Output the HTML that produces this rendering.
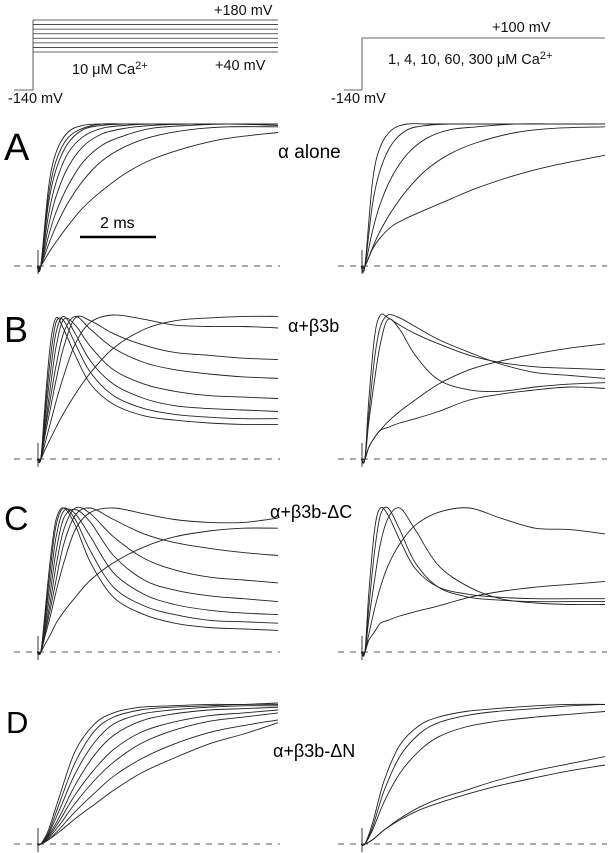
<!DOCTYPE html>
<html><head><meta charset="utf-8">
<style>
html,body{margin:0;padding:0;background:#fff;}
svg{display:block;font-family:"Liberation Sans",sans-serif;}
</style></head>
<body>
<svg id="fig" width="608" height="853" viewBox="0 0 608 853">
<g stroke="#333" stroke-width="0.8" fill="none">
<polyline points="14,90 33,90 33,20"/>
<g id="steps"></g>
</g>
<g stroke="#333" stroke-width="0.8" fill="none">
<polyline points="344,90 362,90 362,38 605,38"/>
</g>
<g font-size="14.5" fill="#111">
<text x="214" y="15">+180 mV</text>
<text x="72" y="74">10 μM Ca<tspan dy="-5" font-size="11">2+</tspan></text>
<text x="215" y="70">+40 mV</text>
<text x="8" y="103">-140 mV</text>
<text x="492" y="32">+100 mV</text>
<text x="388" y="64">1, 4, 10, 60, 300 μM Ca<tspan dy="-5" font-size="11">2+</tspan></text>
<text x="331" y="103">-140 mV</text>
</g>
<g fill="#000">
<text x="4" y="160" font-size="38">A</text>
<text x="4" y="342" font-size="36">B</text>
<text x="4" y="530" font-size="34">C</text>
<text x="6" y="733" font-size="31">D</text>
<text x="278" y="158" font-size="19">α alone</text>
<text x="288" y="332" font-size="18">α+β3b</text>
<text x="270" y="518" font-size="18">α+β3b-ΔC</text>
<text x="273" y="757" font-size="18">α+β3b-ΔN</text>
<text x="100" y="228" font-size="16">2 ms</text>
</g>
<line x1="80" y1="237" x2="156" y2="237" stroke="#000" stroke-width="2.5"/>
<g id="traces" fill="none" stroke="#222" stroke-width="0.9"></g>
</svg>
<script>
// time grids (ms)
const tA = [0,0.1,0.3,0.5,0.8,1.2,1.7,2.3,3,4,5,6.3];
const tBC = [0,0.1,0.2,0.35,0.5,0.7,1,1.4,2,2.8,3.6,4.5,5.4,6.3];
const tD = [0,0.1,0.3,0.6,1,1.5,2,2.7,3.5,4.5,5.4,6.3];
// normalized currents
const aLeft = [
[0,0,.55,.80,.94,.99,1,1,1,1,1,1],
[0,0,.49,.74,.90,.97,1,1,1,1,1,1],
[0,0,.44,.68,.86,.96,.99,1,1,1,1,1],
[0,0,.36,.59,.79,.91,.97,.99,1,1,1,1],
[0,0,.28,.49,.69,.84,.93,.97,.99,1,1,1],
[0,0,.21,.38,.56,.73,.85,.92,.97,.99,1,.99],
[0,0,.15,.28,.44,.60,.74,.84,.91,.96,.98,.98],
[0,0,.09,.17,.28,.41,.53,.65,.75,.84,.90,.94]];
const aRight = [
[0,0,.60,.84,.96,1,1,1,1,1,1,1],
[0,0,.44,.68,.86,.96,.99,1,1,1,1,1],
[0,0,.25,.44,.63,.79,.90,.96,.98,1,1,1],
[0,0,.13,.25,.39,.54,.68,.79,.87,.94,.97,.98],
[0,0,.12,.20,.28,.34,.40,.47,.55,.64,.71,.78]];
const bLeft = [
[0,0,.35,.8,.98,.9,.72,.52,.38,.3,.27,.25,.24,.24],
[0,0,.3,.7,.95,.96,.8,.6,.44,.35,.31,.29,.28,.28],
[0,0,.25,.6,.88,.99,.87,.68,.52,.42,.37,.35,.34,.33],
[0,0,.2,.5,.78,.97,.93,.78,.62,.52,.47,.44,.43,.42],
[0,0,.18,.42,.65,.88,.99,.9,.77,.67,.62,.59,.57,.56],
[0,0,.15,.35,.55,.78,.98,.96,.87,.79,.74,.72,.70,.69],
[0,0,.1,.25,.4,.58,.8,.95,1,.97,.93,.92,.92,.91],
[0,0,.06,.14,.22,.32,.45,.6,.77,.9,.96,.98,.99,.99]];
const bRight = [
[0,0,.4,.85,1,.98,.93,.87,.8,.72,.67,.64,.63,.62],
[0,0,.3,.7,.92,1,.98,.92,.83,.74,.66,.6,.58,.56],
[0,0,.25,.55,.8,.97,.9,.72,.55,.48,.47,.5,.52,.53],
[0,0,.08,.15,.2,.26,.33,.41,.52,.62,.68,.73,.77,.8],
[0,0,.08,.15,.2,.22,.25,.28,.33,.41,.45,.48,.5,.49]];
const cLeft = [
[0,0,.25,.65,.92,1,.88,.62,.38,.26,.2,.17,.16,.15],
[0,0,.22,.58,.88,1,.92,.7,.45,.32,.26,.22,.21,.2],
[0,0,.2,.5,.8,.98,.96,.8,.55,.4,.33,.29,.27,.26],
[0,0,.17,.42,.7,.93,.99,.9,.67,.5,.43,.39,.37,.35],
[0,0,.14,.35,.6,.85,1,.96,.8,.65,.57,.52,.5,.48],
[0,0,.12,.3,.5,.75,.95,1,.92,.82,.76,.72,.69,.67],
[0,0,.1,.25,.42,.62,.85,.97,1,.96,.92,.9,.9,.93],
[0,0,.05,.12,.2,.28,.38,.5,.62,.73,.8,.84,.86,.86]];
const cRight = [
[0,0,.4,.85,1,.95,.78,.58,.45,.4,.38,.37,.37,.37],
[0,0,.3,.7,.95,1,.85,.62,.45,.38,.36,.35,.35,.35],
[0,0,.22,.5,.75,.93,1,.85,.6,.45,.37,.34,.33,.33],
[0,0,.12,.3,.45,.6,.75,.88,.97,1,.93,.86,.85,.82],
[0,0,.08,.14,.2,.22,.25,.28,.32,.38,.42,.45,.47,.49]];
const dLeft = [
[0,0,.1,.35,.66,.85,.93,.97,.98,.99,.99,1],
[0,0,.08,.3,.58,.8,.9,.95,.97,.98,.99,.99],
[0,0,.07,.25,.5,.72,.85,.92,.95,.97,.98,.98],
[0,0,.06,.2,.42,.63,.77,.87,.92,.95,.96,.97],
[0,0,.05,.17,.35,.53,.67,.79,.86,.91,.93,.95],
[0,0,.04,.14,.29,.45,.58,.71,.8,.87,.9,.93],
[0,0,.03,.11,.23,.36,.48,.6,.7,.79,.84,.88],
[0,0,.03,.09,.18,.28,.38,.5,.6,.71,.78,.86]];
const dRight = [
[0,0,.15,.45,.7,.84,.9,.94,.96,.98,.99,.99],
[0,0,.12,.38,.62,.78,.86,.91,.94,.96,.98,.99],
[0,0,.1,.3,.5,.66,.76,.83,.87,.9,.92,.94],
[0,0,.03,.1,.18,.26,.32,.38,.45,.52,.57,.62],
[0,0,.03,.1,.17,.24,.29,.35,.41,.47,.52,.56]];
const protocolSteps = [40,60,80,100,120,140,160,180];

const NS = "http://www.w3.org/2000/svg";
const steps = document.getElementById('steps');
function vY(mv){ return 52 - (mv-40)/140*32; }
protocolSteps.forEach(mv=>{
  const l = document.createElementNS(NS,'line');
  l.setAttribute('x1',33); l.setAttribute('x2',278);
  l.setAttribute('y1',vY(mv)); l.setAttribute('y2',vY(mv));
  
  
  steps.appendChild(l);
});

const g = document.getElementById('traces');
const TMAX = 6.3;
function path(pts){
  let d = "M"+pts[0][0].toFixed(1)+","+pts[0][1].toFixed(1);
  for(let i=0;i<pts.length-1;i++){
    const p0=pts[Math.max(0,i-1)],p1=pts[i],p2=pts[i+1],p3=pts[Math.min(pts.length-1,i+2)];
    const c1x=p1[0]+(p2[0]-p0[0])/6, c1y=p1[1]+(p2[1]-p0[1])/6;
    const c2x=p2[0]-(p3[0]-p1[0])/6, c2y=p2[1]-(p3[1]-p1[1])/6;
    d+=" C"+c1x.toFixed(1)+","+c1y.toFixed(1)+" "+c2x.toFixed(1)+","+c2y.toFixed(1)+" "+p2[0].toFixed(1)+","+p2[1].toFixed(1);
  }
  return d;
}
function panel(name, times, series, x0, x1, base, top, dashX0){
  const xs = t => x0 + t/TMAX*(x1-x0);
  const ys = v => base - v*(base-top);
  const dash = document.createElementNS(NS,'line');
  dash.setAttribute('x1',dashX0); dash.setAttribute('x2',x1+2);
  dash.setAttribute('y1',base); dash.setAttribute('y2',base);
  dash.setAttribute('stroke','#555'); dash.setAttribute('stroke-dasharray','6 6');
  
  
  g.appendChild(dash);
  const art = document.createElementNS(NS,'line');
  art.setAttribute('x1',x0+1); art.setAttribute('x2',x0+1);
  art.setAttribute('y1',base+8); art.setAttribute('y2',base-16);
  
  
  g.appendChild(art);
  series.forEach((vals,i)=>{
    const pts = vals.map((v,j)=>[xs(times[j]), ys(v)]);
    const p = document.createElementNS(NS,'path');
    p.setAttribute('d', path(pts));
    
    
    p.setAttribute('id', name+'-trace-'+i);
    g.appendChild(p);
  });
}
panel('a-left', tA, aLeft, 37, 278, 266, 124, 14);
panel('a-right', tA, aRight, 361, 605, 266, 124, 338);
panel('b-left', tBC, bLeft, 37, 278, 459, 315, 14);
panel('b-right', tBC, bRight, 361, 605, 459, 315, 338);
panel('c-left', tBC, cLeft, 37, 278, 652, 508, 14);
panel('c-right', tBC, cRight, 361, 605, 652, 508, 338);
panel('d-left', tD, dLeft, 37, 278, 844, 703, 14);
panel('d-right', tD, dRight, 361, 605, 844, 703, 338);
</script>
</body></html>
